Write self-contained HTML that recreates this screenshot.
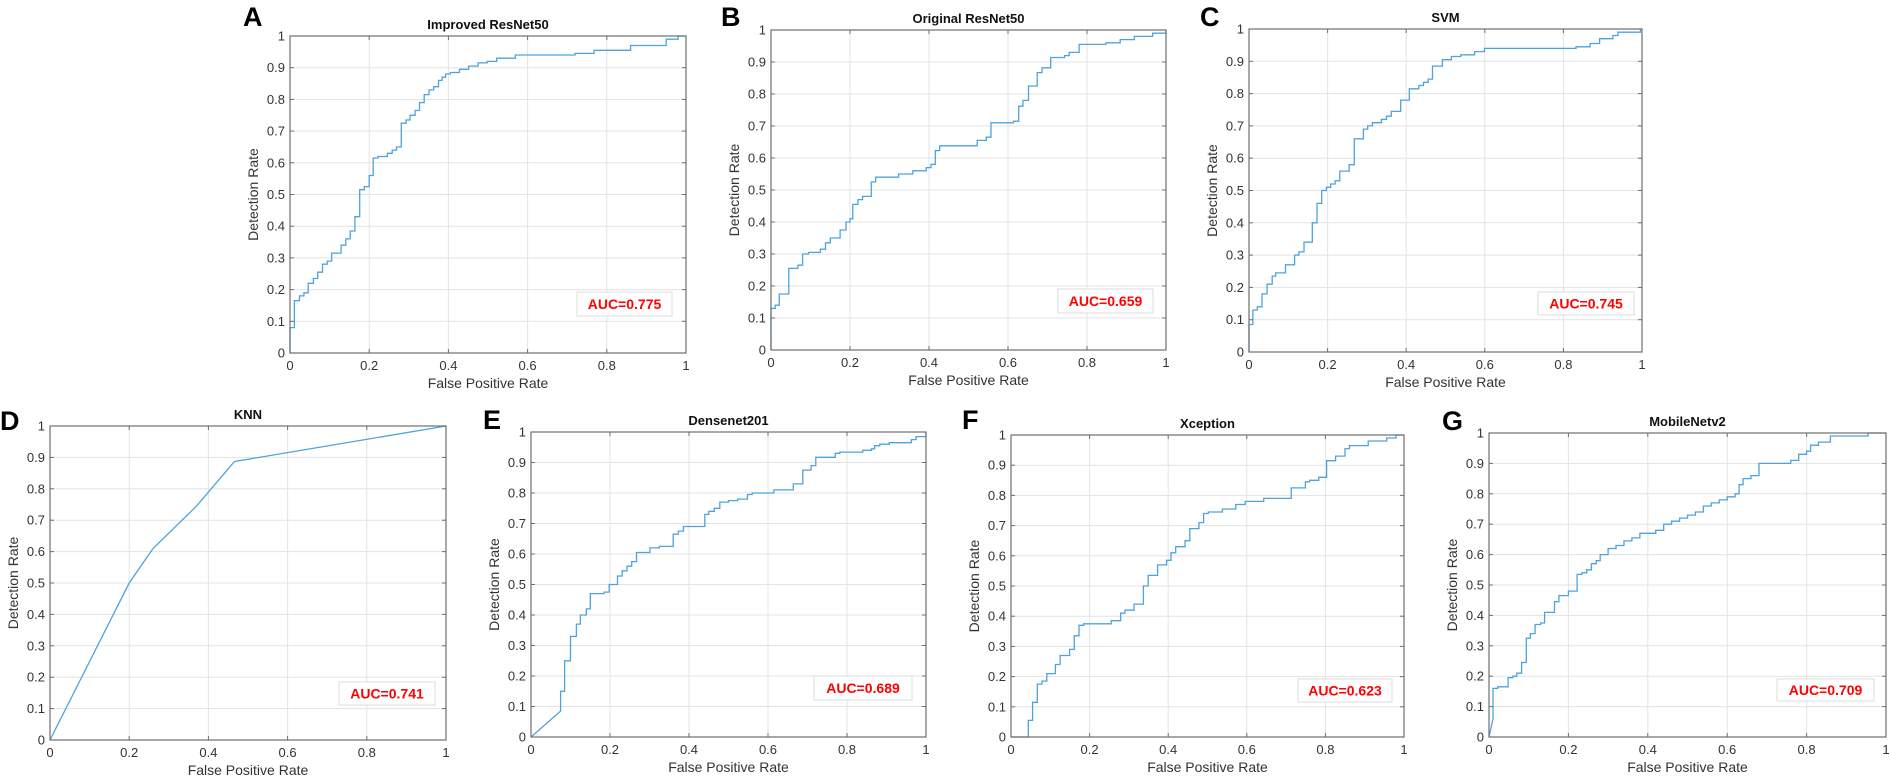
<!DOCTYPE html>
<html><head><meta charset="utf-8"><style>
html,body{margin:0;padding:0;background:#fff;}
svg{display:block;font-family:"Liberation Sans",sans-serif;}
</style></head>
<body>
<svg id="fig" width="1890" height="776" viewBox="0 0 1890 776" xmlns="http://www.w3.org/2000/svg"></svg>
<script>
// ---- data ----
const tickVals = [0,0.1,0.2,0.3,0.4,0.5,0.6,0.7,0.8,0.9,1];
const tickLabels = ["0","0.1","0.2","0.3","0.4","0.5","0.6","0.7","0.8","0.9","1"];
const xTickVals = [0,0.2,0.4,0.6,0.8,1];
const xTickLabels = ["0","0.2","0.4","0.6","0.8","1"];
const panelLetters = ["A","B","C","D","E","F","G"];
const panelTitles = ["Improved ResNet50","Original ResNet50","SVM","KNN","Densenet201","Xception","MobileNetv2"];
const aucLabels = ["AUC=0.775","AUC=0.659","AUC=0.745","AUC=0.741","AUC=0.689","AUC=0.623","AUC=0.709"];

const fprA = [0,0.011,0.024,0.035,0.046,0.059,0.07,0.082,0.094,0.105,0.129,0.141,0.152,0.164,0.176,0.188,0.2,0.21,0.222,0.246,0.258,0.269,0.281,0.293,0.303,0.316,0.327,0.339,0.351,0.363,0.375,0.384,0.393,0.405,0.428,0.451,0.475,0.498,0.522,0.569,0.72,0.768,0.86,0.95,0.98,1];
const tprA = [0.08,0.165,0.18,0.19,0.22,0.235,0.255,0.28,0.29,0.315,0.34,0.36,0.385,0.43,0.515,0.525,0.56,0.615,0.62,0.63,0.64,0.65,0.725,0.735,0.75,0.765,0.79,0.815,0.83,0.84,0.86,0.87,0.88,0.885,0.895,0.905,0.915,0.92,0.93,0.94,0.945,0.955,0.97,0.99,1,1];

const fprB = [0,0.011,0.021,0.045,0.068,0.08,0.095,0.125,0.138,0.15,0.175,0.19,0.2,0.207,0.22,0.232,0.254,0.265,0.323,0.359,0.393,0.405,0.416,0.427,0.522,0.545,0.557,0.614,0.627,0.638,0.652,0.674,0.686,0.708,0.743,0.755,0.78,0.848,0.884,0.92,0.966,1];
const tprB = [0.13,0.14,0.175,0.255,0.265,0.30,0.305,0.315,0.335,0.35,0.375,0.40,0.41,0.455,0.47,0.48,0.525,0.54,0.55,0.56,0.57,0.58,0.623,0.638,0.655,0.665,0.71,0.715,0.762,0.78,0.825,0.867,0.882,0.914,0.92,0.93,0.955,0.96,0.97,0.98,0.99,1];

const fprC = [0,0.01,0.021,0.033,0.046,0.059,0.068,0.093,0.116,0.127,0.14,0.161,0.173,0.185,0.197,0.208,0.219,0.231,0.255,0.268,0.291,0.302,0.314,0.337,0.35,0.362,0.386,0.408,0.432,0.444,0.456,0.467,0.492,0.515,0.539,0.574,0.599,0.832,0.868,0.892,0.926,0.939,0.996,1];
const tprC = [0.085,0.13,0.14,0.18,0.21,0.235,0.245,0.27,0.30,0.31,0.34,0.40,0.46,0.50,0.51,0.52,0.53,0.56,0.58,0.66,0.69,0.70,0.71,0.72,0.73,0.745,0.78,0.815,0.825,0.835,0.845,0.885,0.905,0.915,0.92,0.93,0.94,0.945,0.955,0.97,0.98,0.99,1,1];

const fprD = [0,0.2,0.26,0.37,0.466,1];
const tprD = [0,0.5,0.61,0.745,0.887,1];

const fprE = [0,0.075,0.075,0.085,0.1,0.115,0.125,0.14,0.15,0.185,0.198,0.219,0.231,0.243,0.255,0.267,0.301,0.325,0.36,0.373,0.386,0.44,0.45,0.464,0.478,0.5,0.523,0.548,0.56,0.615,0.664,0.688,0.709,0.721,0.77,0.782,0.84,0.862,0.87,0.883,0.907,0.963,0.975,1];
const tprE = [0,0.085,0.15,0.25,0.33,0.37,0.40,0.42,0.47,0.475,0.50,0.528,0.545,0.56,0.575,0.605,0.62,0.625,0.665,0.675,0.69,0.73,0.74,0.75,0.77,0.775,0.78,0.795,0.80,0.81,0.83,0.875,0.89,0.917,0.93,0.934,0.94,0.945,0.955,0.96,0.965,0.975,0.985,1];

const fprF = [0,0.044,0.055,0.067,0.079,0.091,0.113,0.125,0.149,0.161,0.173,0.185,0.255,0.279,0.29,0.313,0.337,0.349,0.373,0.396,0.407,0.419,0.443,0.455,0.478,0.49,0.502,0.538,0.572,0.596,0.643,0.713,0.749,0.76,0.783,0.803,0.826,0.85,0.861,0.909,0.956,0.98,1];
const tprF = [0,0.055,0.115,0.175,0.185,0.21,0.24,0.27,0.29,0.335,0.37,0.375,0.385,0.41,0.42,0.44,0.50,0.535,0.57,0.585,0.61,0.63,0.65,0.69,0.71,0.74,0.745,0.755,0.77,0.78,0.79,0.825,0.845,0.85,0.86,0.915,0.93,0.955,0.965,0.98,0.99,1,1];

const fprG = [0,0.01,0.01,0.022,0.048,0.06,0.07,0.082,0.094,0.104,0.116,0.13,0.14,0.165,0.176,0.2,0.222,0.234,0.246,0.258,0.27,0.28,0.3,0.32,0.34,0.36,0.38,0.42,0.44,0.46,0.48,0.5,0.52,0.54,0.56,0.58,0.6,0.62,0.63,0.64,0.66,0.68,0.76,0.78,0.8,0.81,0.83,0.86,0.955,1];
const tprG = [0,0.06,0.16,0.165,0.195,0.20,0.21,0.245,0.325,0.34,0.37,0.375,0.41,0.445,0.465,0.48,0.535,0.54,0.55,0.57,0.58,0.60,0.62,0.63,0.645,0.655,0.67,0.68,0.70,0.71,0.72,0.73,0.74,0.76,0.77,0.78,0.79,0.80,0.83,0.85,0.86,0.90,0.91,0.93,0.94,0.96,0.97,0.99,1,1];

const fprSets = [fprA,fprB,fprC,fprD,fprE,fprF,fprG];
const tprSets = [tprA,tprB,tprC,tprD,tprE,tprF,tprG];
const curveModes = ["step","step","step","line","step-diag","step","step-diag"];

// ---- layout (pixels) ----
const boxes = [
  {l:290,r:686,t:36,b:353, lx:243,ly:26, auc:[577,292,95,24]},
  {l:771,r:1166,t:30,b:350, lx:721,ly:26, auc:[1058,289,95,24]},
  {l:1249,r:1642,t:29,b:352, lx:1200,ly:26, auc:[1538,292,96,23]},
  {l:50,r:446,t:426,b:740, lx:0,ly:430, auc:[339,682,96,23]},
  {l:531,r:926,t:432,b:737, lx:483,ly:429, auc:[814,676,98,24]},
  {l:1011,r:1404,t:435,b:737, lx:962,ly:429, auc:[1298,679,94,23]},
  {l:1489,r:1886,t:433,b:737, lx:1442,ly:430, auc:[1777,679,97,22]}
];

const NS = "http://www.w3.org/2000/svg";
const svg = document.getElementById("fig");
function mk(tag, attrs, parent){
  const e = document.createElementNS(NS, tag);
  for (const k in attrs) e.setAttribute(k, attrs[k]);
  (parent||svg).appendChild(e);
  return e;
}

boxes.forEach((bx, p) => {
  const g = mk("g", {});
  
  
  const xs = v => bx.l + v*(bx.r-bx.l);
  const ys = v => bx.b - v*(bx.b-bx.t);
  // grid
  tickVals.forEach(v => {
    const gl = mk("line", {x1:bx.l,x2:bx.r,y1:ys(v),y2:ys(v),stroke:"#e3e3e3","stroke-width":1}, g);
    
    
  });
  xTickVals.forEach(v => {
    const gl = mk("line", {x1:xs(v),x2:xs(v),y1:bx.t,y2:bx.b,stroke:"#e3e3e3","stroke-width":1}, g);
    
    
  });
  // curve
  const fx = fprSets[p], ty = tprSets[p], mode = curveModes[p];
  let d = "M" + xs(fx[0]).toFixed(1) + "," + ys(ty[0]).toFixed(1);
  if (mode === "step") d = "M" + xs(0) + "," + ys(0) + " L" + xs(fx[0]).toFixed(1) + "," + ys(ty[0]).toFixed(1);
  for (let i = 1; i < fx.length; i++) {
    if (mode === "line" || (mode === "step-diag" && i === 1)) {
      d += " L" + xs(fx[i]).toFixed(1) + "," + ys(ty[i]).toFixed(1);
    } else {
      d += " L" + xs(fx[i]).toFixed(1) + "," + ys(ty[i-1]).toFixed(1);
      d += " L" + xs(fx[i]).toFixed(1) + "," + ys(ty[i]).toFixed(1);
    }
  }
  const path = mk("path", {d:d, fill:"none", stroke:"#4fa3dc", "stroke-width":1.3}, g);
  
  
  // axes box
  const frame = mk("rect", {x:bx.l,y:bx.t,width:bx.r-bx.l,height:bx.b-bx.t,fill:"none",stroke:"#6e6e6e","stroke-width":1.2}, g);
  
  
  // ticks & labels
  tickVals.forEach((v, i) => {
    mk("line", {x1:bx.l,x2:bx.l+4,y1:ys(v),y2:ys(v),stroke:"#6e6e6e"}, g);
    mk("line", {x1:bx.r,x2:bx.r-4,y1:ys(v),y2:ys(v),stroke:"#6e6e6e"}, g);
    const t = mk("text", {x:bx.l-5,y:ys(v)+4.5,"text-anchor":"end","font-size":13,fill:"#333"}, g);
    t.textContent = tickLabels[i];
    
    
  });
  xTickVals.forEach((v, i) => {
    mk("line", {x1:xs(v),x2:xs(v),y1:bx.b,y2:bx.b-4,stroke:"#6e6e6e"}, g);
    mk("line", {x1:xs(v),x2:xs(v),y1:bx.t,y2:bx.t+4,stroke:"#6e6e6e"}, g);
    const t = mk("text", {x:xs(v),y:bx.b+17,"text-anchor":"middle","font-size":13,fill:"#333"}, g);
    t.textContent = xTickLabels[i];
    
    
  });
  // axis titles
  const xl = mk("text", {x:(bx.l+bx.r)/2,y:bx.b+35,"text-anchor":"middle","font-size":14,fill:"#333"}, g);
  xl.textContent = "False Positive Rate";
  
  
  const cy = (bx.t+bx.b)/2, cx = bx.l-32;
  const yl = mk("text", {x:cx,y:cy,"text-anchor":"middle","font-size":14,fill:"#333",transform:"rotate(-90 "+cx+" "+cy+")"}, g);
  yl.textContent = "Detection Rate";
  
  
  // title
  const tt = mk("text", {x:(bx.l+bx.r)/2,y:bx.t-7,"text-anchor":"middle","font-size":13,"font-weight":"bold",fill:"#111"}, g);
  tt.textContent = panelTitles[p];
  
  
  // panel letter
  const lt = mk("text", {x:bx.lx,y:bx.ly,"font-size":27,"font-weight":"bold",fill:"#000"}, g);
  lt.textContent = panelLetters[p];
  
  
  // AUC box
  const a = bx.auc;
  const ab = mk("rect", {x:a[0],y:a[1],width:a[2],height:a[3],fill:"#fff",stroke:"#dcdcdc"}, g);
  
  
  const at = mk("text", {x:a[0]+a[2]/2,y:a[1]+a[3]/2+5,"text-anchor":"middle","font-size":14,"font-weight":"bold",fill:"#ff0000"}, g);
  at.textContent = aucLabels[p];
  
  
});
</script>
</body></html>
